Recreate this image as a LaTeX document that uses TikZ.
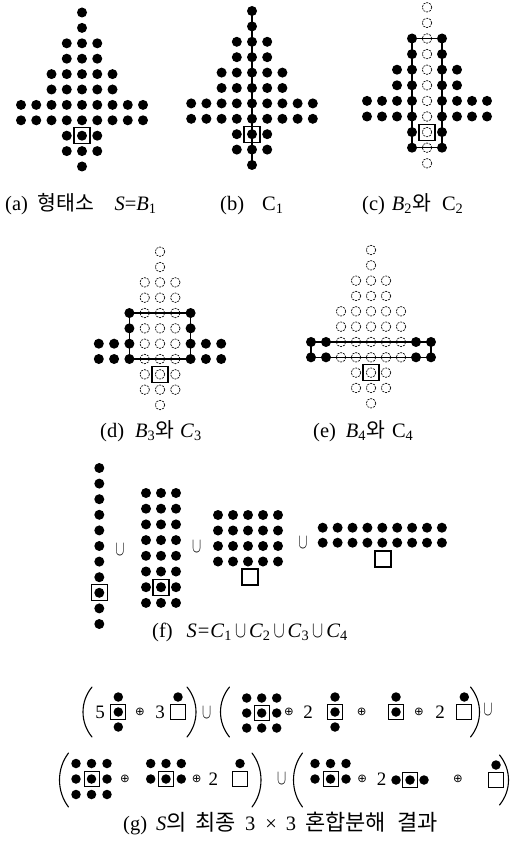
\documentclass[tikz,border=0pt]{standalone}
\usepackage{fontspec}
\usepackage{graphicx}
\setmainfont{Liberation Serif}
\newfontfamily\kr{Noto Sans CJK KR}
\newfontfamily\dv{DejaVu Sans}
\newcommand\mi[1]{\textit{#1}}
\newcommand\sbs[1]{\textsubscript{#1}}
\newcommand\lcup{\hspace{3pt}\scalebox{0.8}[1.1]{$\cup$}\hspace{3pt}}
\newcommand\krl[1]{{\kr\fontsize{20.5}{24}\selectfont #1}}
\newcommand\krg[1]{{\kr\fontsize{22}{24}\selectfont #1}}
\tikzset{
  sdot/.style={circle, fill=black, inner sep=0pt, minimum size=10pt},
  gdot/.style={circle, fill=black, inner sep=0pt, minimum size=9.5pt},
  hdot/.style={circle, draw=black, line width=0.65pt, dash pattern=on 2pt off 1pt, inner sep=0pt, minimum size=9.5pt},
  sqbox/.style={rectangle, draw, line width=1.1pt, minimum size=16pt, inner sep=0pt},
  gsq/.style={rectangle, draw, line width=1.0pt, minimum size=15pt, inner sep=0pt},
  edgeline/.style={line width=1.2pt},
  parline/.style={line width=1.1pt, line cap=round},
  lab/.style={anchor=base west, inner sep=0pt, font=\fontsize{20.5}{24}\selectfont},
  num/.style={inner sep=0pt, font=\fontsize{19}{22}\selectfont},
  opl/.style={inner sep=0pt, font=\dv\fontsize{11.5}{14}\selectfont},
  cupn/.style={inner sep=0pt, font=\fontsize{14}{16}\selectfont},
}
% #1 name, #2 cx, #3 y of first row, #4 dx, #5 dy, #6 number of hollow layers
\newcommand\shapepanel[6]{%
  \foreach \r/\ca/\cb in {1/0/0,2/0/0,3/-1/1,4/-1/1,5/-2/2,6/-2/2,7/-4/4,8/-4/4,9/-1/1,10/-1/1,11/0/0}{%
    \foreach \c in {\ca,...,\cb}{%
      \pgfmathtruncatemacro\k{\c+5}%
      \pgfmathtruncatemacro\lv{abs(\c)>=3 ? 4 : abs(\c)+1}%
      \ifnum\lv>#6\relax
        \node[sdot] (#1-\k-\r) at ({#2+\c*#4},{#3+(\r-1)*#5}) {};
      \else
        \node[hdot] (#1-\k-\r) at ({#2+\c*#4},{#3+(\r-1)*#5}) {};
      \fi
    }%
  }%
  \node[sqbox] (#1-sq) at (#1-5-9) {};
}
% parentheses: #1 name, #2 x centre, #3 y centre, #4 half height
\newcommand\lpar[4]{\coordinate (#1) at (#2,#3);
  \draw[parline] ($(#1)+(4.5,-#4)$) .. controls ($(#1)+(-7.5,-0.42*#4)$) and ($(#1)+(-7.5,0.42*#4)$) .. ($(#1)+(4.5,#4)$);}
\newcommand\rpar[4]{\coordinate (#1) at (#2,#3);
  \draw[parline] ($(#1)+(-4.5,-#4)$) .. controls ($(#1)+(7.5,-0.42*#4)$) and ($(#1)+(7.5,0.42*#4)$) .. ($(#1)+(-4.5,#4)$);}
\newcommand\cupsym[3]{\node[cupn] (#1) at (#2,#3) {\scalebox{0.95}[1.45]{$\cup$}};}
\usetikzlibrary{calc}
\begin{document}
\begin{tikzpicture}[x=1pt,y=-1pt]
\useasboundingbox (0,0) rectangle (510,845);

% ---------- (a) ----------
\shapepanel{a}{82}{12.5}{15.25}{15.4}{0}
\node[lab] (la) at (5,210) {(a)\hspace{10pt}\krl{형태소}\hspace{20pt}\mi{S}=\mi{B}\sbs{1}};

% ---------- (b) ----------
\shapepanel{b}{252}{11}{15.2}{15.4}{0}
\draw[edgeline] (b-5-1.center) -- (b-5-11.center);
\node[lab] (lb) at (220,210) {(b)\hspace{18pt}C\sbs{1}};

% ---------- (c) ----------
\shapepanel{c}{427}{7.3}{15}{15.6}{1}
\draw[edgeline] (c-4-3.center) rectangle (c-6-10.center);
\node[lab] (lc) at (362,210) {(c)\hspace{7pt}\mi{B}\sbs{2}\krl{와}\hspace{11pt}C\sbs{2}};

% ---------- (d) ----------
\shapepanel{d}{160}{251.7}{15.3}{15.33}{2}
\draw[edgeline] (d-3-5.center) rectangle (d-7-8.center);
\node[lab] (ld) at (100,437) {(d)\hspace{11pt}\mi{B}\sbs{3}\krl{와}\hspace{6pt}\mi{C}\sbs{3}};

% ---------- (e) ----------
\shapepanel{e}{371}{250}{15}{15.33}{3}
\draw[edgeline] (e-1-7.center) rectangle (e-9-8.center);
\node[lab] (le) at (313,437) {(e)\hspace{10pt}\mi{B}\sbs{4}\krl{와}\hspace{7pt}C\sbs{4}};

% ---------- (f) ----------
\foreach \r in {1,...,11}{\node[sdot] (f1-\r) at (99.3,{468+(\r-1)*15.6}) {};}
\node[sqbox] (f1-sq) at (f1-9) {};
\cupsym{fu1}{120}{550}
\foreach \c in {1,2,3}{\foreach \r in {1,...,8}{\node[sdot] (f2-\c-\r) at ({146+(\c-1)*15},{493+(\r-1)*15.7}) {};}}
\node[sqbox] (f2-sq) at (f2-2-7) {};
\cupsym{fu2}{196.7}{547}
\foreach \c in {1,...,5}{\foreach \r in {1,...,4}{\node[sdot] (f3-\c-\r) at ({218+(\c-1)*15},{515+(\r-1)*15.5}) {};}}
\node[sqbox] (f3-sq) at (250,577) {};
\cupsym{fu3}{303}{543}
\foreach \c in {1,...,9}{\foreach \r in {1,2}{\node[sdot] (f4-\c-\r) at ({322.7+(\c-1)*14.9},{527.7+(\r-1)*15}) {};}}
\node[sqbox] (f4-sq) at (383,559) {};
\node[lab] (lf) at (152,637) {(f)\hspace{14pt}\mi{S}\hspace{1pt}=\hspace{1pt}\mi{C}\sbs{1}\lcup\mi{C}\sbs{2}\lcup\mi{C}\sbs{3}\lcup\mi{C}\sbs{4}};

% ---------- (g) line 1 ----------
\lpar{p1}{87.5}{712}{25}
\node[num] (n5) at (100,712) {5};
\foreach \y/\i in {697/1,712/2,727/3}{\node[gdot] (g1-\i) at (118.3,\y) {};}
\node[gsq] (g1s) at (g1-2) {};
\node[opl] (o1) at (140,712) {⊕};
\node[num] (n3) at (160,712) {3};
\node[gdot] (g2-1) at (178,697) {};
\node[gsq] (g2s) at (178,712) {};
\rpar{p2}{191.5}{712}{25}
\cupsym{u1}{206.7}{713}
\lpar{p3}{225}{712}{25}
\foreach \x/\i in {246.7/1,261.7/2,276.7/3}{\foreach \y/\j in {698/1,713/2,728/3}{\node[gdot] (g3-\i-\j) at (\x,\y) {};}}
\node[gsq] (g3s) at (g3-2-2) {};
\node[opl] (o2) at (289,712) {⊕};
\node[num] (n2a) at (308,712) {2};
\foreach \y/\i in {697/1,712/2,727/3}{\node[gdot] (g4-\i) at (335,\y) {};}
\node[gsq] (g4s) at (g4-2) {};
\node[opl] (o3) at (361.7,712) {⊕};
\node[gdot] (g5-1) at (396,697) {};
\node[gdot] (g5-2) at (396,712) {};
\node[gsq] (g5s) at (g5-2) {};
\node[opl] (o4) at (419,712) {⊕};
\node[num] (n2b) at (440,712) {2};
\node[gdot] (g6-1) at (464.3,697) {};
\node[gsq] (g6s) at (464.3,712) {};
\rpar{p4}{475}{712}{25}
\cupsym{u2}{488}{710}

% ---------- (g) line 2 ----------
\lpar{q1}{64}{780}{27}
\foreach \x/\i in {76/1,91.5/2,107/3}{\foreach \y/\j in {763.5/1,779/2,794.5/3}{\node[gdot] (h1-\i-\j) at (\x,\y) {};}}
\node[gsq] (h1s) at (h1-2-2) {};
\node[opl] (o5) at (125,779) {⊕};
\foreach \x/\i in {150.7/1,166/2,181.3/3}{\foreach \y/\j in {763.5/1,779/2}{\node[gdot] (h2-\i-\j) at (\x,\y) {};}}
\node[gsq] (h2s) at (h2-2-2) {};
\node[opl] (o6) at (196.7,779) {⊕};
\node[num] (n2c) at (213.3,779) {2};
\node[gdot] (h3-1) at (240,763.5) {};
\node[gsq] (h3s) at (240,779) {};
\rpar{q2}{256.5}{780}{27}
\cupsym{u3}{281.7}{779}
\lpar{q3}{298}{780}{27}
\foreach \x/\i in {315/1,330.5/2,346/3}{\foreach \y/\j in {763.5/1,779/2}{\node[gdot] (h4-\i-\j) at (\x,\y) {};}}
\node[gsq] (h4s) at (h4-2-2) {};
\node[opl] (o7) at (362.3,779) {⊕};
\node[num] (n2d) at (381.7,779) {2};
\foreach \x/\i in {396/1,410/2,424/3}{\node[gdot] (h5-\i) at (\x,780) {};}
\node[gsq] (h5s) at (h5-2) {};
\node[opl] (o8) at (458,779) {⊕};
\node[gdot] (h6-1) at (496,765) {};
\node[gsq] (h6s) at (496,780) {};
\rpar{q4}{504}{780}{25}

\node[lab] (lg) at (123,830) {(g)\hspace{9pt}\mi{S}\krg{의}\hspace{9pt}\krg{최종}\hspace{9pt}3\hspace{10pt}×\hspace{9pt}3\hspace{9pt}\krg{혼합분해}\hspace{11pt}\krg{결과}};
\end{tikzpicture}
\end{document}
